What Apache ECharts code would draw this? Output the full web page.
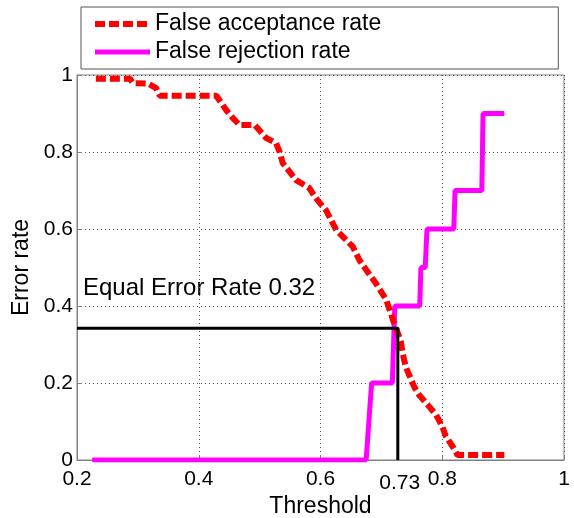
<!DOCTYPE html>
<html>
<head>
  <meta charset="UTF-8">
  <title>Error rate vs threshold</title>
  <style>
    body { margin: 0; background: #fff; }
    #chart { width: 574px; height: 518px; }
  </style>
  <script src="https://cdn.jsdelivr.net/npm/echarts@6/dist/echarts.min.js"></script>
</head>
<body>
  <div id="chart"></div>
  <script>
    // [threshold, rate]
    var farPoints = [
      [0.231, 0.99], [0.287, 0.99], [0.292, 0.979], [0.316, 0.978], [0.33, 0.966], [0.336, 0.946],
      [0.429, 0.946], [0.445, 0.909], [0.455, 0.89], [0.467, 0.87], [0.492, 0.87], [0.511, 0.836],
      [0.527, 0.823], [0.533, 0.80], [0.538, 0.771], [0.56, 0.727], [0.582, 0.706], [0.587, 0.693],
      [0.595, 0.675], [0.609, 0.649], [0.626, 0.597], [0.64, 0.575], [0.653, 0.554], [0.664, 0.519],
      [0.675, 0.494], [0.691, 0.459], [0.708, 0.416], [0.719, 0.364], [0.727, 0.33], [0.732, 0.307],
      [0.735, 0.277], [0.74, 0.242], [0.754, 0.19], [0.762, 0.169], [0.779, 0.138], [0.79, 0.117],
      [0.80, 0.087], [0.806, 0.061], [0.817, 0.035], [0.825, 0.013], [0.902, 0.013]
    ];
    var frrPoints = [
      [0.225, 0], [0.675, 0], [0.684, 0.2], [0.718, 0.2], [0.722, 0.4], [0.763, 0.4],
      [0.765, 0.5], [0.772, 0.5], [0.775, 0.6], [0.819, 0.6], [0.821, 0.7], [0.865, 0.7],
      [0.867, 0.9], [0.902, 0.9]
    ];
    var eerPoints = [[0.2, 0.342], [0.727, 0.342], [0.727, 0]];
    var eerText = 'Equal Error Rate 0.32';
    var xTicks = [0.2, 0.4, 0.6, 0.8, 1];
    var xExtraTick = [0.73];

    var font = 'Liberation Sans, Arial, Helvetica, sans-serif';
    var hidden = { color: 'rgba(0,0,0,0)', borderWidth: 0, opacity: 0 };
    var chart = echarts.init(document.getElementById('chart'));
    chart.setOption({
      animation: false,
      textStyle: { fontFamily: font },
      grid: {
        left: 77, right: 10, top: 75, bottom: 58, outerBoundsMode: 'none',
        show: true, borderColor: '#808080', borderWidth: 1
      },
      legend: {
        data: [
          { name: 'False acceptance rate', itemStyle: hidden, lineStyle: { width: 6, type: [10, 4] } },
          { name: 'False rejection rate', itemStyle: hidden, lineStyle: { width: 5 } }
        ],
        orient: 'vertical', left: 81, top: 7,
        padding: [5, 177, 5, 11],
        itemWidth: 55, itemHeight: 14, itemGap: 4,
        backgroundColor: '#fff',
        borderColor: '#555', borderWidth: 1, borderRadius: 0,
        textStyle: { fontSize: 23, color: '#000', lineHeight: 24, fontFamily: font }
      },
      xAxis: [{
        type: 'value', min: 0.2, max: 1, interval: 0.2,
        name: 'Threshold', nameLocation: 'middle', nameGap: 31,
        nameTextStyle: { fontSize: 23, color: '#000', fontFamily: font },
        axisLine: { lineStyle: { color: '#808080' } },
        axisTick: { inside: true, length: 5, lineStyle: { color: '#808080' } },
        axisLabel: { customValues: xTicks, fontSize: 21, color: '#000', margin: 9, fontFamily: font },
        splitLine: { show: true, lineStyle: { color: '#555', type: [1, 3], width: 1 } }
      }, {
        type: 'value', min: 0.2, max: 1, position: 'bottom',
        axisLine: { show: false }, axisTick: { show: false }, splitLine: { show: false },
        axisLabel: { customValues: xExtraTick, fontSize: 21, color: '#000', margin: 13, fontFamily: font }
      }],
      yAxis: {
        type: 'value', min: 0, max: 1, interval: 0.2,
        name: 'Error rate', nameLocation: 'middle', nameGap: 40,
        nameTextStyle: { fontSize: 23, color: '#000', fontFamily: font },
        axisLine: { show: true, lineStyle: { color: '#808080' } },
        axisTick: { show: true, inside: true, length: 5, lineStyle: { color: '#808080' } },
        axisLabel: { fontSize: 21, color: '#000', margin: 4, fontFamily: font },
        splitLine: { show: true, lineStyle: { color: '#555', type: [1, 3], width: 1 } }
      },
      graphic: [{
        type: 'text', left: 83, top: 276,
        style: { text: eerText, fontSize: 24, fill: '#000', fontFamily: font }
      }],
      series: [{
        name: 'False acceptance rate', type: 'line', data: farPoints,
        symbol: 'none', z: 3,
        lineStyle: { color: '#ff0000', width: 6, type: [10, 4] },
        itemStyle: { color: '#ff0000' }
      }, {
        name: 'False rejection rate', type: 'line', data: frrPoints,
        symbol: 'none', z: 2,
        lineStyle: { color: '#ff00ff', width: 5 },
        itemStyle: { color: '#ff00ff' }
      }, {
        name: 'eer', type: 'line', data: eerPoints,
        symbol: 'none', z: 4,
        lineStyle: { color: '#000', width: 3 }
      }]
    });
  </script>
</body>
</html>
